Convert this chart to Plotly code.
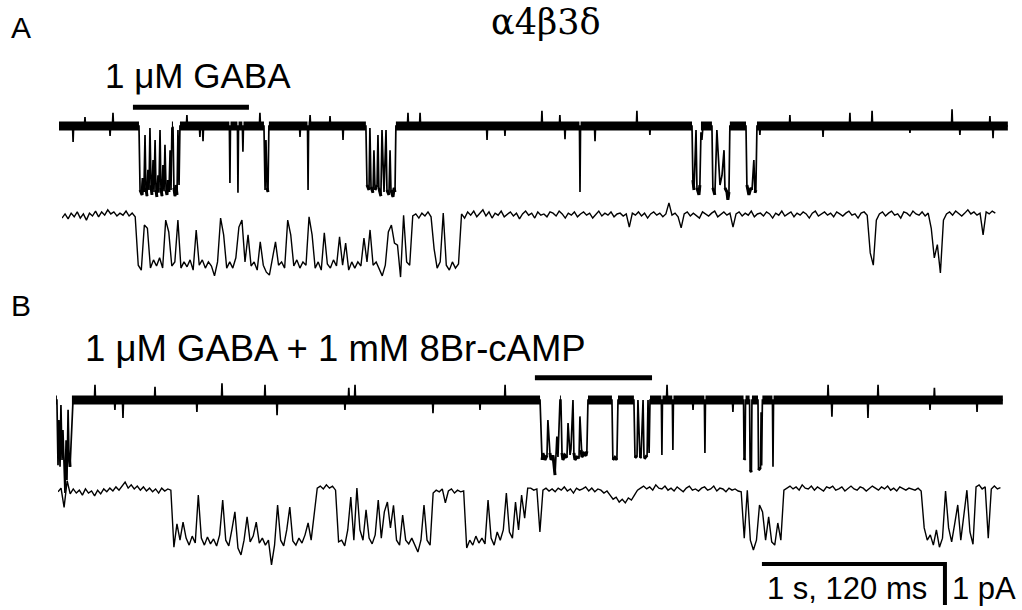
import plotly.graph_objects as go

W, H = 1022, 610

# ---------------- DATA ----------------
# Fast traces: time in s, current in pA (0 = closed level, openings negative)
a1_t = [0.000, 0.437, 0.443, 0.454, 0.459, 0.464, 0.470, 0.475, 0.481, 0.486, 0.492, 0.497, 0.503, 0.508, 0.514,
        0.519, 0.525, 0.530, 0.535, 0.541, 0.546, 0.552, 0.557, 0.563, 0.568, 0.574, 0.579, 0.585, 0.590, 0.596,
        0.601, 0.607, 0.612, 0.617, 0.623, 0.628, 0.634, 0.639, 0.645, 0.650, 0.656, 0.661,
        1.120, 1.126, 1.131, 1.137, 1.142, 1.147,
        1.677, 1.683, 1.694, 1.699, 1.705, 1.716, 1.721, 1.727, 1.738, 1.743, 1.748, 1.759, 1.765, 1.770, 1.776,
        1.787, 1.792, 1.803, 1.809, 1.814, 1.825, 1.831, 1.836, 1.841,
        3.459, 3.464, 3.470, 3.481, 3.486, 3.497, 3.502, 3.508, 3.513, 3.519,
        3.568, 3.573, 3.584, 3.595, 3.601, 3.612, 3.623, 3.634, 3.639, 3.650, 3.655, 3.661, 3.666,
        3.754, 3.759, 3.770, 3.781, 3.787, 3.797, 3.803, 3.808, 3.814, 5.185]
a1_i = [0.00, 0.00, -1.56, -1.68, -1.27, -1.61, -0.22, -1.51, -1.71, -1.07, -1.56, -0.05, -1.44, -1.68, -0.83,
        -1.61, -0.34, -1.56, -1.73, -1.20, -1.63, -0.10, -1.51, -1.71, -0.95, -1.59, -0.46, -1.56, -1.68, -1.32,
        -1.61, -0.59, -1.56, -0.05, -0.02, -1.51, -1.71, -1.44, -1.68, -0.10, -1.44, 0.00,
        0.00, -1.56, -0.34, -1.51, -1.61, 0.00,
        0.00, -1.44, -1.56, -0.05, -1.49, -1.63, -0.59, -1.56, -1.44, -0.22, -1.51, -1.71, -0.10, -1.07, -1.61,
        -0.10, -1.56, -1.68, -0.59, -1.56, -1.73, -1.51, -1.61, 0.00,
        0.00, -1.32, -1.56, -0.10, -1.51, -1.68, -1.44, -0.15, -0.34, 0.00,
        0.00, -1.51, -1.68, -0.10, -0.59, -1.44, -1.20, -0.59, -1.51, -1.61, -1.80, -1.61, 0.00,
        0.00, -1.44, -1.68, -1.51, -1.56, -0.83, -1.63, -1.56, 0.00, 0.00]
a1_spike_t = [0.077, 0.142, 0.279, 0.295, 0.699, 0.770, 0.787, 0.934, 0.978, 1.005, 1.098, 1.317, 1.361,
              1.372, 1.481, 1.552, 1.907, 1.973, 2.339, 2.437, 2.639, 2.737, 2.765, 2.847, 2.929, 3.158,
              3.229, 3.830, 3.994, 4.175, 4.322, 4.443, 4.650, 4.880, 4.923, 5.087, 5.104]
a1_spike_i = [-0.39, 0.22, -0.24, 0.32, 0.27, -0.27, -0.37, -1.39, -1.63, -0.63, 0.32, -0.27, -1.56,
              0.27, 0.24, -0.34, 0.32, 0.32, -0.34, -0.24, 0.37, 0.27, -0.32, -1.61, -0.37, 0.37,
              -0.22, -0.22, 0.27, -0.27, 0.32, 0.37, -0.17, 0.41, -0.22, 0.24, -0.30]

b1_t = [0.000, 0.005, 0.011, 0.016, 0.022, 0.027, 0.033, 0.038, 0.049, 0.055, 0.060, 0.066, 0.071, 0.077,
        0.082, 0.087, 0.093,
        2.645, 2.650, 2.656, 2.661, 2.672, 2.683, 2.688, 2.699, 2.705, 2.716, 2.727, 2.737, 2.743, 2.754,
        2.759, 2.765, 2.770, 2.781, 2.792, 2.798, 2.809, 2.814, 2.825, 2.830, 2.836, 2.847, 2.858, 2.863,
        2.869, 2.874, 2.885, 2.896, 2.901, 2.907,
        3.038, 3.043, 3.054, 3.065, 3.071,
        3.158, 3.164, 3.175, 3.180, 3.191, 3.197, 3.208, 3.213, 3.219, 3.230, 3.235, 3.241, 3.246,
        3.757, 3.760, 3.765, 3.768, 3.790, 3.793, 3.800, 3.803, 3.836, 3.839, 3.850, 3.853, 3.856, 3.860,
        5.174]
b1_i = [0.00, 0.00, -1.59, -0.49, -1.63, -0.12, -1.46, -0.73, -2.27, -0.98, -1.95, -0.24, -1.34, -1.63,
        -1.10, -0.49, 0.00,
        0.00, -0.80, -1.46, -1.30, -1.46, -1.35, -0.49, -1.29, -1.46, -1.35, -1.83, -0.89, -1.39, 0.00,
        0.00, -1.29, -1.46, -1.35, -1.41, -0.56, -1.34, -1.20, 0.00, -1.29, -1.46, -1.39, -1.41, -0.40,
        -1.22, -1.39, -1.30, -1.36, -1.25, 0.00,
        0.00, -1.46, -1.40, -1.46, 0.00,
        0.00, -1.41, -1.36, 0.00, -1.41, -1.38, 0.00, -1.39, -1.41, -1.35, 0.00, -1.29, 0.00,
        0.00, -1.46, -1.42, 0.00, 0.00, -1.70, -1.76, 0.00, 0.00, -1.71, -1.65, -0.30, -1.60, 0.00,
        0.00]
b1_spike_t = [0.213, 0.322, 0.366, 0.541, 0.770, 0.907, 1.142, 1.208, 1.579, 1.600, 1.634, 2.060, 2.317,
              2.454, 3.311, 3.339, 3.371, 3.481, 3.546, 3.699, 3.918, 4.219, 4.240, 4.437, 4.492, 4.776,
              4.800, 5.033]
b1_spike_i = [0.37, -0.24, -0.44, 0.32, -0.29, 0.41, 0.37, -0.37, -0.24, 0.30, 0.37, -0.32, -0.24,
              0.37, -1.34, 0.37, -1.22, -0.24, -1.29, -0.29, -1.63, 0.37, -0.41, -0.44, 0.37, -0.24,
              0.30, -0.29]

# Expanded traces: sampled every 2 ms, current in pA
slow_dt_ms = 2.0
a2_i = [-0.05, 0.05, -0.07, 0.07, -0.02, 0.10, -0.05, 0.05, -0.10, 0.07,
        0.00, 0.12, -0.02, 0.10, 0.02, 0.15, 0.05, 0.10, 0.00, 0.07,
        0.02, 0.12, 0.00, 0.07, -0.02, -1.20, -1.32, -0.22, -0.30, -1.27,
        -1.07, -1.22, -1.02, -1.27, -0.10, -0.39, -1.22, -1.12, -0.10, -1.27,
        -1.12, -1.24, -1.07, -1.32, -0.34, -1.20, -1.07, -1.27, -1.12, -1.22,
        -1.46, -1.12, -0.05, -0.46, -1.27, -1.12, -1.27, -1.02, -0.27, -0.10,
        -1.12, -0.46, -1.22, -1.12, -1.32, -0.63, -1.20, -1.37, -1.44, -1.02,
        -0.63, -1.20, -1.12, -1.27, -0.10, -0.46, -1.22, -1.07, -1.27, -1.12,
        -1.20, -0.02, -0.46, -1.27, -1.12, -1.32, -0.41, -1.17, -1.27, -1.07,
        -1.22, -0.51, -1.20, -0.66, -1.32, -1.12, -1.27, -1.12, -1.22, -0.54,
        -1.12, -0.34, -1.20, -1.12, -1.27, -1.46, -1.20, -0.39, -0.22, -0.66,
        -0.71, -1.49, 0.02, -1.12, -1.20, 0.00, 0.05, -0.05, 0.07, 0.00,
        0.10, -0.02, -0.80, -1.27, -1.12, 0.07, -1.20, -1.32, -1.12, -1.27,
        -1.17, 0.05, -0.05, 0.10, 0.02, 0.12, -0.02, 0.07, 0.15, 0.00,
        0.10, -0.05, 0.07, 0.02, 0.12, -0.02, 0.05, 0.10, 0.00, 0.07,
        -0.07, 0.05, 0.12, 0.02, 0.07, -0.05, 0.10, 0.02, 0.05, -0.02,
        0.10, 0.07, 0.00, 0.12, 0.05, -0.05, 0.07, 0.02, 0.10, -0.02,
        0.05, 0.10, 0.02, 0.07, -0.05, 0.05, 0.12, 0.00, 0.07, 0.02,
        0.10, -0.02, 0.05, 0.07, 0.00, 0.05, -0.27, 0.07, 0.02, 0.10,
        0.00, 0.07, -0.05, 0.05, 0.10, 0.02, 0.07, -0.02, 0.05, 0.32,
        0.02, 0.07, -0.02, -0.29, 0.05, 0.10, 0.00, 0.07, 0.02, -0.05,
        0.10, 0.05, 0.00, 0.07, 0.12, -0.02, 0.05, 0.10, 0.02, 0.07,
        -0.27, 0.05, 0.10, 0.00, 0.07, 0.02, 0.12, -0.02, 0.05, 0.07,
        0.00, 0.10, 0.05, -0.05, 0.07, 0.02, 0.12, 0.00, 0.05, 0.10,
        -0.02, 0.07, 0.02, 0.10, 0.05, -0.05, 0.07, 0.12, 0.00, 0.05,
        0.10, 0.02, 0.07, -0.02, 0.10, 0.05, 0.00, 0.07, 0.12, 0.02,
        0.05, -0.05, 0.07, 0.10, 0.02, -0.90, -1.20, -0.10, 0.05, 0.10,
        0.00, 0.07, 0.12, 0.02, 0.05, -0.05, 0.10, 0.07, 0.00, 0.12,
        0.05, 0.02, 0.10, 0.00, 0.07, -0.30, -1.02, -0.70, -1.39, -0.10,
        0.05, 0.10, 0.02, 0.12, 0.05, 0.00, 0.07, 0.15, 0.05, 0.10,
        0.02, 0.07, -0.46, 0.10, 0.05, 0.12, 0.07]
b2_i = [-0.02, 0.07, -0.40, 0.25, -0.07, 0.05, -0.05, 0.02, -0.10, 0.05,
        -0.05, 0.00, -0.12, 0.02, -0.07, 0.05, -0.02, 0.07, 0.00, 0.10,
        0.02, 0.12, 0.22, 0.07, 0.15, 0.05, 0.12, 0.02, 0.10, 0.00,
        0.07, -0.02, 0.05, -0.05, 0.07, 0.00, 0.05, 0.02, -1.37, -0.80,
        -1.20, -0.76, -1.15, -1.32, -1.10, -1.27, -0.10, -1.15, -1.32, -1.12,
        -1.29, -1.17, -1.34, -1.07, -0.22, -1.20, -1.34, -0.95, -0.51, -1.39,
        -1.56, -1.20, -0.63, -1.24, -1.10, -0.76, -1.27, -1.15, -1.32, -1.20,
        -1.80, -1.32, -0.34, -1.20, -1.34, -0.95, -0.39, -1.22, -1.32, -1.15,
        -1.27, -1.07, -0.78, -1.20, -0.50, 0.07, 0.12, 0.05, 0.15, 0.07,
        0.12, 0.02, -1.24, -1.20, -1.34, -0.95, -0.15, -1.20, 0.07, -0.95,
        -1.20, -0.46, -1.15, -1.29, -1.07, -0.22, -1.15, -0.51, -0.27, -0.90,
        -0.35, -1.20, -1.32, -0.59, -1.20, -1.29, -1.15, -1.34, -1.49, -1.20,
        -0.34, -1.20, -1.32, -0.05, 0.02, -0.02, 0.05, -0.29, 0.00, 0.05,
        -0.05, 0.02, -0.02, 0.00, -1.39, -1.20, -1.32, -1.10, -1.27, -1.15,
        -1.29, -0.22, -1.15, -1.32, -1.00, -1.20, -0.95, -0.05, -1.00, -1.15,
        -0.27, -0.95, -0.10, -0.66, 0.07, 0.07, 0.02, 0.05, -1.00, 0.02,
        0.07, 0.00, 0.05, -0.02, 0.07, 0.02, 0.10, 0.00, 0.05, -0.05,
        0.07, 0.02, 0.05, 0.10, 0.00, 0.07, -0.02, 0.05, 0.02, -0.05,
        0.00, -0.10, -0.20, -0.15, -0.27, -0.20, -0.29, -0.17, -0.22, -0.10,
        0.02, 0.07, 0.12, 0.05, 0.10, 0.02, 0.15, 0.07, 0.05, 0.12,
        0.02, 0.07, 0.00, 0.10, 0.05, -0.02, 0.07, 0.12, 0.02, 0.05,
        0.00, 0.07, 0.10, 0.02, 0.05, 0.12, 0.00, 0.07, 0.05, -0.02,
        0.07, 0.02, 0.05, 0.00, -0.02, -1.15, 0.02, -1.20, -1.44, -1.20,
        -0.34, -0.51, -1.20, -0.63, -1.24, -1.32, -0.78, -1.20, 0.02, 0.07,
        0.12, 0.05, 0.10, 0.02, 0.15, 0.07, 0.05, 0.12, 0.02, 0.10,
        0.05, 0.00, 0.10, 0.07, 0.12, 0.02, 0.05, 0.10, 0.00, 0.07,
        0.12, 0.05, 0.02, 0.10, 0.07, 0.00, 0.05, 0.12, 0.07, 0.02,
        0.10, 0.05, 0.12, 0.02, 0.07, 0.00, 0.10, 0.05, 0.02, 0.07,
        0.05, 0.02, 0.07, 0.00, -0.90, -1.20, -1.07, -1.32, -0.95, -1.37,
        -1.15, 0.00, -0.90, -1.24, -0.80, -0.34, -1.20, -0.60, 0.02, -1.00,
        -1.30, 0.10, 0.15, 0.05, 0.10, -1.15, 0.05, 0.12, 0.05, 0.08]

# Agonist application bars (s) and their level (pA) on the fast traces
gaba_a_bar = [0.404, 1.038]
gaba_a_level = 0.46
gaba_b_bar = [2.617, 3.257]
gaba_b_level = 0.54

# Scale bar: 1 s (fast) / 120 ms (expanded) and 1 pA
scale_ms = 120
scale_pa = 1.0
scale_start_ms = 461.6
scale_level_pa = -1.78

labels = {
    "panel_a": "A", "panel_b": "B", "title": "α4β3δ",
    "cond_a": "1 μM GABA", "cond_b": "1 μM GABA + 1 mM 8Br-cAMP",
    "scale_t": "1 s, 120 ms", "scale_i": "1 pA",
}

# ---------------- FIGURE ----------------
PPA = 41.0        # pixels per pA
PPS = 183.0       # pixels per s (fast traces)
PPMS = 183.0 / 120.0  # pixels per ms (expanded traces)

fig = go.Figure()


def axes(n, xl, xr, ppu, yt, ybot, base):
    sx = "" if n == 1 else str(n)
    fig.layout["xaxis" + sx] = dict(domain=[xl / W, xr / W], range=[0, (xr - xl) / ppu],
                                    visible=False, anchor="y" + sx, fixedrange=True)
    fig.layout["yaxis" + sx] = dict(domain=[1 - ybot / H, 1 - yt / H],
                                    range=[(base - ybot) / PPA, (base - yt) / PPA],
                                    visible=False, anchor="x" + sx, fixedrange=True)
    return "x" + sx, "y" + sx


def fast_trace(ts, cs, sp_t, sp_i, xa, ya, band_w=9):
    hw = 0.003
    pts = list(zip(ts, cs))
    for t, a in zip(sp_t, sp_i):
        pts += [(t - hw, 0.0), (t, a), (t + hw, 0.0)]
    pts.sort(key=lambda p: p[0])
    x = [p[0] for p in pts]
    y = [p[1] for p in pts]
    band = [0.0 if abs(v) < 0.5 else None for v in y]
    openb = [v if v < -1.2 else None for v in y]
    fig.add_trace(go.Scatter(x=x, y=band, mode="lines", line=dict(color="black", width=band_w),
                             xaxis=xa, yaxis=ya, hoverinfo="skip", connectgaps=False))
    fig.add_trace(go.Scatter(x=x, y=openb, mode="lines", line=dict(color="black", width=3),
                             xaxis=xa, yaxis=ya, hoverinfo="skip", connectgaps=False))
    fig.add_trace(go.Scatter(x=x, y=y, mode="lines", line=dict(color="black", width=1.7),
                             xaxis=xa, yaxis=ya, hoverinfo="skip"))


def slow_trace(cs, xa, ya):
    x = [k * slow_dt_ms for k in range(len(cs))]
    fig.add_trace(go.Scatter(x=x, y=cs, mode="lines", line=dict(color="black", width=1.4),
                             xaxis=xa, yaxis=ya, hoverinfo="skip"))


xa1, ya1 = axes(1, 59, 1010, PPS, 20, 245, 126)
xa2, ya2 = axes(2, 62, 1000, PPMS, 150, 300, 216)
xa3, ya3 = axes(3, 56, 1008, PPS, 300, 530, 400)
xa4, ya4 = axes(4, 58, 1010, PPMS, 420, 609, 491)

fast_trace(a1_t, a1_i, a1_spike_t, a1_spike_i, xa1, ya1)
slow_trace(a2_i, xa2, ya2)
fast_trace(b1_t, b1_i, b1_spike_t, b1_spike_i, xa3, ya3)
slow_trace(b2_i, xa4, ya4)

# application bars
fig.add_trace(go.Scatter(x=gaba_a_bar, y=[gaba_a_level] * 2, mode="lines",
                         line=dict(color="black", width=5), xaxis=xa1, yaxis=ya1, hoverinfo="skip"))
fig.add_trace(go.Scatter(x=gaba_b_bar, y=[gaba_b_level] * 2, mode="lines",
                         line=dict(color="black", width=5), xaxis=xa3, yaxis=ya3, hoverinfo="skip"))

# scale bar (on expanded B axis)
sx_end = scale_start_ms + scale_ms
fig.add_trace(go.Scatter(x=[scale_start_ms, sx_end, sx_end],
                         y=[scale_level_pa, scale_level_pa, scale_level_pa - scale_pa],
                         mode="lines", line=dict(color="black", width=4),
                         xaxis=xa4, yaxis=ya4, hoverinfo="skip"))

SANS = "Arial, Liberation Sans, sans-serif"
SERIF = "DejaVu Serif, Times New Roman, Liberation Serif, serif"


def label(text, px, py, size, anchor="left", family=SANS):
    fig.add_annotation(text=text, x=px / W, y=1 - py / H, xref="paper", yref="paper",
                       xanchor=anchor, yanchor="middle", showarrow=False,
                       font=dict(family=family, size=size, color="black"))


label(labels["panel_a"], 21, 28, 30, "center")
label(labels["panel_b"], 21, 305, 30, "center")
label(labels["title"], 545, 22, 35, "center", SERIF)
label(labels["cond_a"], 103, 75, 35)
label(labels["cond_b"], 83, 348, 36.5)
label(labels["scale_t"], 765, 588, 31)
label(labels["scale_i"], 950, 588, 31)

fig.update_layout(width=W, height=H, margin=dict(l=0, r=0, t=0, b=0),
                  paper_bgcolor="white", plot_bgcolor="rgba(0,0,0,0)", showlegend=False)

fig.write_html("out.html", config={"displayModeBar": False},
               post_script="document.body.style.margin='0px';")
